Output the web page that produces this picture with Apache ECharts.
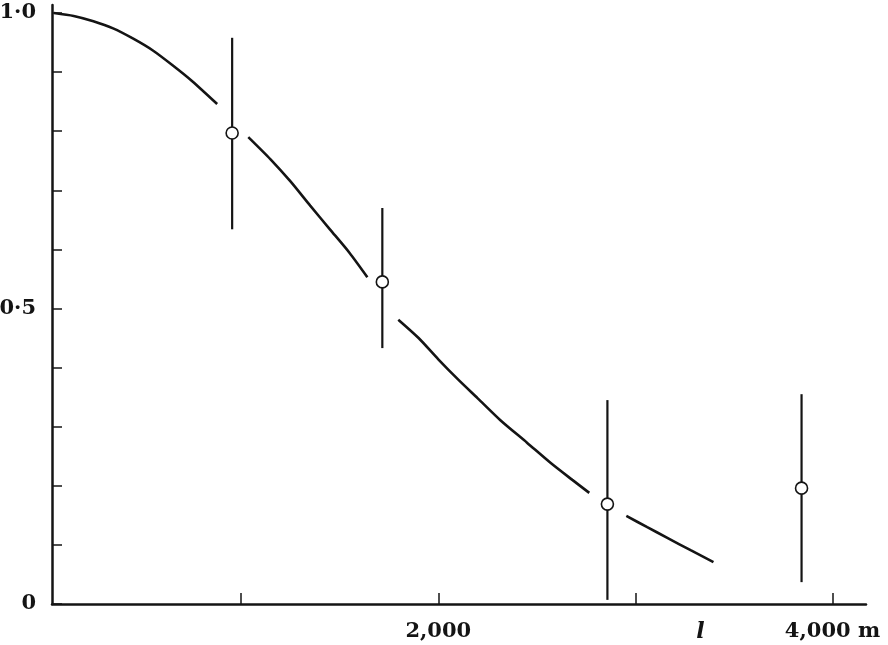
<!DOCTYPE html>
<html>
<head>
<meta charset="utf-8">
<script src="https://cdn.jsdelivr.net/npm/echarts@6/dist/echarts.min.js"></script>
<style>
html,body{margin:0;padding:0;background:#fff;}
#chart{width:888px;height:645px;}
</style>
</head>
<body>
<div id="chart"></div>
<script>
// ---- data ----
var pointX = [954, 1716, 2858, 3843];
var pointY = [0.797, 0.545, 0.169, 0.196];
var errLow = [0.634, 0.433, 0.007, 0.037];
var errHigh = [0.958, 0.670, 0.345, 0.355];

var curveSeg1X = [50, 150, 250, 350, 450, 550, 650, 750, 878];
var curveSeg1Y = [1.000, 0.995, 0.986, 0.974, 0.957, 0.937, 0.912, 0.885, 0.846];
var curveSeg2X = [1036, 1150, 1250, 1350, 1450, 1550, 1640];
var curveSeg2Y = [0.790, 0.752, 0.715, 0.674, 0.634, 0.594, 0.553];
var curveSeg3X = [1797, 1900, 2000, 2100, 2200, 2315, 2450, 2569, 2680, 2766];
var curveSeg3Y = [0.481, 0.450, 0.414, 0.380, 0.348, 0.311, 0.273, 0.239, 0.210, 0.188];
var curveSeg4X = [2954, 3060, 3162, 3280, 3396];
var curveSeg4Y = [0.149, 0.130, 0.112, 0.091, 0.071];

var xTickValues = [1000, 2000, 3000, 4000];
var xLabelValues = [2000, 3330, 4000];
var xLabelTexts = ['{n|2,000}', '{i|l}', '{n|4,000 m}'];
var yTickValues = [0, 0.1, 0.2, 0.3, 0.4, 0.5, 0.6, 0.7, 0.8, 0.9, 1.0];
var yLabelValues = [0, 0.5, 1.0];
var yLabelTexts = ['0', '0·5', '1·0'];

// ---- build ----
function seg(xs, ys) { return xs.map(function (x, i) { return [x, ys[i]]; }); }
var curveData = []
  .concat(seg(curveSeg1X, curveSeg1Y)).concat([[null, null]])
  .concat(seg(curveSeg2X, curveSeg2Y)).concat([[null, null]])
  .concat(seg(curveSeg3X, curveSeg3Y)).concat([[null, null]])
  .concat(seg(curveSeg4X, curveSeg4Y));
var pointData = pointX.map(function (x, i) { return [x, pointY[i]]; });
var errData = pointX.map(function (x, i) { return [x, errLow[i], errHigh[i]]; });

var ink = '#141414';
var serif = '"DejaVu Serif", "Liberation Serif", serif';

var chart = echarts.init(document.getElementById('chart'), null, {renderer: 'canvas'});
chart.setOption({
  backgroundColor: '#ffffff',
  animation: false,
  grid: {left: 52, right: 22, top: 5, bottom: 41, containLabel: false, outerBoundsMode: 'none'},
  xAxis: {
    type: 'value', min: 40, max: 4170,
    axisLine: {show: true, onZero: false, lineStyle: {color: ink, width: 2.5}},
    axisTick: {show: true, inside: true, length: 11, customValues: xTickValues, lineStyle: {color: ink, width: 1.5}},
    axisLabel: {
      show: true, margin: 17, customValues: xLabelValues,
      formatter: function (v) { var k = xLabelValues.indexOf(v); return k >= 0 ? xLabelTexts[k] : ''; },
      rich: {
        n: {fontFamily: serif, fontWeight: 'bold', fontSize: 21, color: ink},
        i: {fontFamily: serif, fontWeight: 'bold', fontStyle: 'italic', fontSize: 22, color: ink}
      }
    },
    splitLine: {show: false}
  },
  yAxis: {
    type: 'value', min: 0, max: 1.0135,
    axisLine: {show: true, onZero: false, lineStyle: {color: ink, width: 2.5}},
    axisTick: {show: true, inside: true, length: 10, customValues: yTickValues, lineStyle: {color: ink, width: 1.5}},
    axisLabel: {
      show: true, margin: 16, customValues: yLabelValues,
      formatter: function (v) { var k = yLabelValues.indexOf(v); return k >= 0 ? yLabelTexts[k] : ''; },
      fontFamily: serif, fontWeight: 'bold', fontSize: 21, color: ink
    },
    splitLine: {show: false}
  },
  series: [
    {
      type: 'line', data: curveData, smooth: 0.25, showSymbol: false, connectNulls: false,
      lineStyle: {color: ink, width: 2.6}, silent: true, z: 2
    },
    {
      type: 'custom', data: errData, z: 3,
      encode: {x: 0, y: [1, 2]},
      renderItem: function (params, api) {
        var x = api.value(0);
        var p1 = api.coord([x, api.value(1)]);
        var p2 = api.coord([x, api.value(2)]);
        return {
          type: 'line',
          shape: {x1: p1[0], y1: p1[1], x2: p2[0], y2: p2[1]},
          style: {stroke: ink, lineWidth: 2.2}
        };
      }
    },
    {
      type: 'scatter', data: pointData, symbol: 'circle', symbolSize: 12, z: 5,
      itemStyle: {color: '#ffffff', borderColor: ink, borderWidth: 1.6, opacity: 1}
    }
  ]
});
</script>
</body>
</html>
